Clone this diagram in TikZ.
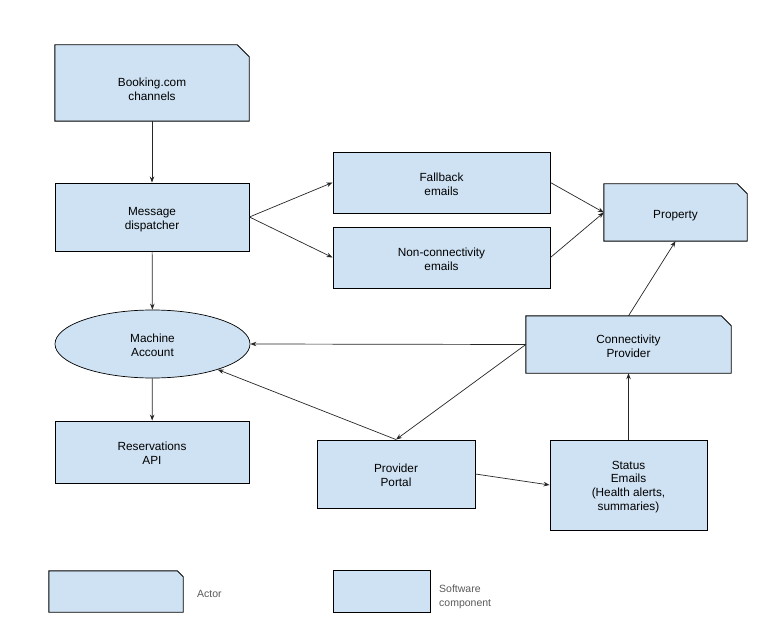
\documentclass[tikz,border=0pt]{standalone}
\usepackage{fontspec}
\setmainfont{Liberation Sans}
\usetikzlibrary{shapes.geometric,arrows.meta,backgrounds}
\definecolor{boxfill}{HTML}{CFE2F3}
\definecolor{legendtext}{HTML}{595959}
\newcommand{\boxtext}[2][3pt]{\raisebox{-#1}[\height][\depth]{\begin{tabular}{@{}c@{}}#2\end{tabular}}}
\tikzset{
  comp/.style={draw=black, line width=0.9pt, fill=boxfill, minimum width=#1, inner sep=0pt, font=\fontsize{11.8}{13.8}\selectfont},
  actorbox/.style={draw=none, minimum width=#1, inner sep=0pt, font=\fontsize{11.8}{13.8}\selectfont},
  actorline/.style={draw=black, line width=0.9pt, fill=boxfill, line join=miter},
  ell/.style={ellipse, draw=black, line width=0.7pt, fill=boxfill, inner sep=0pt, font=\fontsize{11.8}{13.8}\selectfont},
  arr/.style={draw=black!85, line width=0.7pt, -{Stealth[length=6pt,width=4.5pt]}},
  legendlabel/.style={text=legendtext, font=\fontsize{10.5}{13.8}\selectfont, align=left, anchor=west, inner sep=0pt}
}
\newcommand{\actoroutline}[2]{%
  \begin{scope}[on background layer]
    \path[actorline] (#1.south west) -- (#1.north west) -- ([xshift=-#2]#1.north east) -- ([yshift=-#2]#1.north east) -- (#1.south east) -- cycle;
  \end{scope}}
\begin{document}
\begin{tikzpicture}[x=1pt,y=-1pt]
\useasboundingbox (0,0) rectangle (780,623);

\node[actorbox=194pt, minimum height=76pt] (booking) at (152,83) {\boxtext[8pt]{Booking.com\\channels}};
\actoroutline{booking}{12pt}
\node[comp=194pt, minimum height=68pt] (dispatcher) at (152,217) {\boxtext{Message\\dispatcher}};
\node[comp=217pt, minimum height=61pt] (fallback) at (441.5,182.5) {\boxtext{Fallback\\emails}};
\node[comp=217pt, minimum height=61pt] (nonconn) at (441.5,257.5) {\boxtext{Non-connectivity\\emails}};
\node[actorbox=143pt, minimum height=57pt] (property) at (675.5,212.5) {\boxtext{Property}};
\actoroutline{property}{10pt}
\node[ell, minimum width=195pt, minimum height=68pt] (machine) at (152.5,344) {\boxtext{Machine\\Account}};
\node[actorbox=205pt, minimum height=57pt] (connprov) at (628.5,344.5) {\boxtext{Connectivity\\Provider}};
\actoroutline{connprov}{10pt}
\node[comp=194pt, minimum height=62pt] (reservations) at (152,452) {\boxtext{Reservations\\API}};
\node[comp=158pt, minimum height=68pt] (portal) at (396,474) {\boxtext{Provider\\Portal}};
\node[comp=157pt, minimum height=90pt] (status) at (628.5,485) {\boxtext[2pt]{Status\\Emails\\(Health alerts,\\summaries)}};

% legend
\node[actorbox=134pt, minimum height=41pt] (legactor) at (116,591.5) {};
\actoroutline{legactor}{6pt}
\node[legendlabel] (legactortext) at (197,594) {Actor};
\node[comp=97pt, minimum height=42pt] (legcomp) at (381.5,591) {};
\node[legendlabel] (legcomptext) at (439,596.5) {Software\\component};

% connectors
\draw[arr] (booking) -- (dispatcher);
\draw[arr] (dispatcher.east) -- (fallback.west);
\draw[arr] (dispatcher.east) -- (nonconn.west);
\draw[arr] (fallback.east) -- (property.west);
\draw[arr] (nonconn.east) -- (property.west);
\draw[arr] (dispatcher) -- (machine);
\draw[arr] (connprov.west) -- (machine.east);
\draw[arr] (connprov.west) -- (portal.north);
\draw[arr] (portal.north) -- (machine);
\draw[arr] (machine) -- (reservations);
\draw[arr] (portal.east) -- (status.west);
\draw[arr] (status.north) -- (connprov.south);
\draw[arr] (connprov.north) -- (property.south);
\end{tikzpicture}
\end{document}
